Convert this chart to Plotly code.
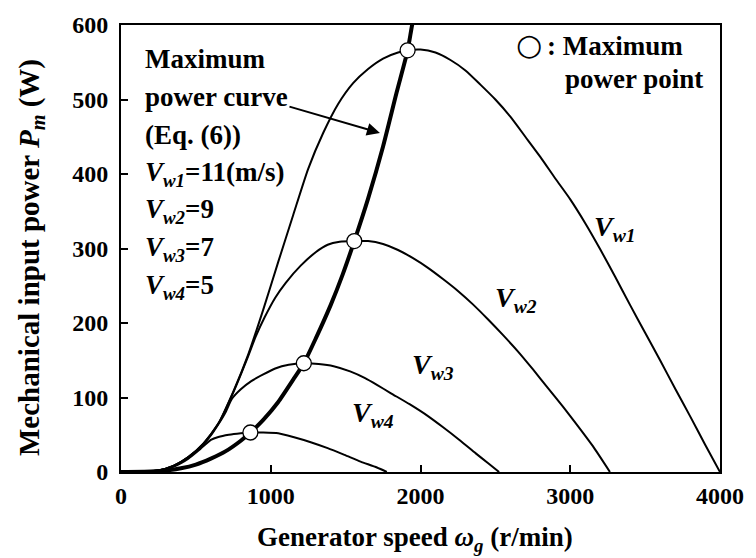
import plotly.graph_objects as go

# Turbine mechanical power vs generator speed for four wind speeds
speed_w1 = [0, 250, 350, 450, 550, 650, 750, 850, 950, 1050, 1150, 1250, 1350, 1450, 1550,
            1650, 1750, 1850, 1914, 2000, 2100, 2200, 2300, 2400, 2500, 2600, 2700, 2800,
            2900, 3000, 3100, 3200, 3300, 3400, 3500, 3600, 3700, 3800, 3900, 4000]
power_w1 = [0, 2, 8, 20, 38, 65, 108, 158, 218, 282, 345, 407, 455, 494, 522,
            541, 555, 563, 566, 567, 563, 553, 539, 520, 500, 477, 450, 423,
            394, 366, 334, 299, 262, 224, 187, 150, 112, 75, 37, 0]

speed_w2 = [0, 250, 350, 450, 550, 650, 750, 850, 900, 960, 1030, 1100, 1200, 1300, 1380,
            1460, 1558, 1650, 1750, 1850, 1950, 2050, 2150, 2250, 2350, 2450, 2550, 2650,
            2750, 2850, 2950, 3050, 3150, 3265]
power_w2 = [0, 2, 8, 20, 38, 65, 107, 156, 182, 208, 234, 254, 277, 295, 305,
            309, 310, 310, 306, 298, 287, 274, 259, 243, 225, 205, 184, 162,
            138, 113, 88, 62, 35, 0]

speed_w3 = [0, 250, 350, 450, 550, 600, 650, 700, 740, 800, 870, 950, 1030, 1120, 1221,
            1320, 1420, 1530, 1630, 1709, 1800, 1927, 2050, 2151, 2260, 2369, 2450, 2525]
power_w3 = [0, 2, 8, 20, 37, 49, 64, 81, 98, 111, 122, 131, 139, 144, 146,
            145, 142, 135, 126, 117, 106, 91, 75, 60, 43, 25, 12, 0]

speed_w4 = [0, 250, 350, 450, 530, 600, 650, 720, 800, 864, 950, 1050, 1150, 1267, 1380,
            1492, 1600, 1709, 1775]
power_w4 = [0, 2, 7, 18, 31, 43, 47, 50, 52, 53, 53, 52, 47, 40, 32,
            23, 14, 6, 0]

# Maximum power curve (Eq. (6)) and the maximum power points
speed_mp = [0, 200, 300, 400, 500, 600, 700, 800, 864, 950, 1050, 1150, 1221, 1300, 1400,
            1480, 1558, 1650, 1750, 1840, 1914, 1944, 1975]
power_mp = [0, 0.6, 2, 5, 10, 18, 28, 42, 53, 70, 94, 124, 146, 179, 224,
            265, 310, 367, 437, 509, 566, 600, 628]

mpp_speed = [864, 1221, 1558, 1914]
mpp_power = [53, 146, 310, 566]

x_ticks = [0, 1000, 2000, 3000, 4000]
y_ticks = [0, 100, 200, 300, 400, 500, 600]

FONT = "Liberation Serif"

fig = go.Figure()
for sx, sy in [(speed_w1, power_w1), (speed_w2, power_w2),
               (speed_w3, power_w3), (speed_w4, power_w4)]:
    fig.add_trace(go.Scatter(x=sx, y=sy, mode="lines",
                             line=dict(color="black", width=2, shape="spline", smoothing=0.6),
                             showlegend=False, hoverinfo="skip"))
fig.add_trace(go.Scatter(x=speed_mp, y=power_mp, mode="lines",
                         line=dict(color="black", width=4, shape="spline", smoothing=0.6),
                         showlegend=False, hoverinfo="skip"))
fig.add_trace(go.Scatter(x=mpp_speed, y=mpp_power, mode="markers",
                         marker=dict(symbol="circle", size=15, color="white",
                                     line=dict(color="black", width=1.3)),
                         showlegend=False, hoverinfo="skip", cliponaxis=False))

axis_common = dict(showline=True, linecolor="black", linewidth=2, mirror=True,
                   ticks="inside", ticklen=7, tickwidth=1.5, tickcolor="black",
                   showgrid=False, zeroline=False,
                   tickfont=dict(family=FONT, size=24, color="black", weight="bold"))
fig.update_xaxes(range=[0, 4000], tickvals=x_ticks, ticklabelstandoff=1, **axis_common)
fig.update_yaxes(range=[0, 600], tickvals=y_ticks, ticklabelstandoff=6, **axis_common)

ann = []
def text(x, y, s, size=27, xanchor="left", weight="bold", family=FONT):
    ann.append(dict(x=x, y=y, xref="x", yref="y", text=s, showarrow=False,
                    xanchor=xanchor, yanchor="middle",
                    font=dict(family=family, size=size, color="black", weight=weight)))

# left-hand annotation block
text(145, 555, "Maximum")
text(145, 503, "power curve")
text(145, 452, "(Eq. (6))")
text(145, 400, "<i>V</i><sub><i>w1</i></sub>=11(m/s)")
text(145, 350, "<i>V</i><sub><i>w2</i></sub>=9")
text(145, 299, "<i>V</i><sub><i>w3</i></sub>=7")
text(145, 249, "<i>V</i><sub><i>w4</i></sub>=5")

# symbol key, top right
text(2726, 574, "○", size=30, xanchor="center", weight="normal", family="DejaVu Sans")
text(2830, 572, ": Maximum")
text(2950, 527, "power point")

# curve labels
text(3142, 327, "<i>V</i><sub><i>w1</i></sub>", size=28)
text(2482, 231, "<i>V</i><sub><i>w2</i></sub>", size=28)
text(1927, 142, "<i>V</i><sub><i>w3</i></sub>", size=28)
text(1531, 77, "<i>V</i><sub><i>w4</i></sub>", size=28)

# arrow pointing at the maximum power curve
ann.append(dict(x=1729, y=455, ax=1115, ay=491, xref="x", yref="y", axref="x", ayref="y",
                text="", showarrow=True, arrowhead=2, arrowsize=1.3, arrowwidth=2,
                arrowcolor="black"))

# axis titles
ann.append(dict(x=0.49, y=-0.151, xref="paper", yref="paper", showarrow=False,
                text="Generator speed <i>ω</i><sub><i>g</i></sub> (r/min)",
                xanchor="center", yanchor="middle",
                font=dict(family=FONT, size=27, color="black", weight="bold")))
ann.append(dict(x=-0.150, y=0.479, xref="paper", yref="paper", showarrow=False,
                text="Mechanical input power <i>P</i><sub><i>m</i></sub> (W)",
                textangle=-90, xanchor="center", yanchor="middle",
                font=dict(family=FONT, size=29, color="black", weight="bold")))

fig.update_layout(width=756, height=558,
                  margin=dict(l=121, r=29, t=21, b=86),
                  paper_bgcolor="white", plot_bgcolor="white",
                  annotations=ann)

fig.write_html("out.html")
